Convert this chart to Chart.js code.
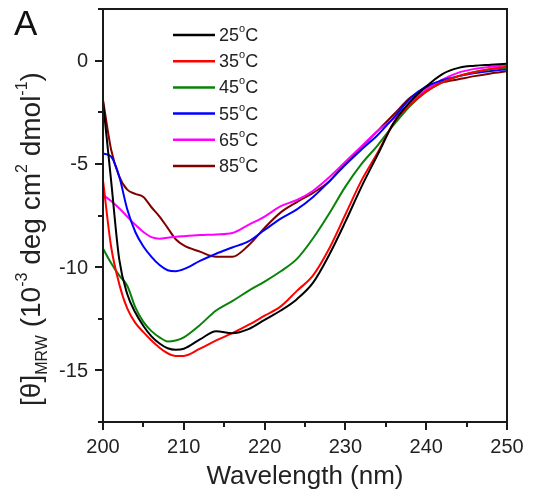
<!DOCTYPE html>
<html>
<head>
<meta charset="utf-8">
<script src="https://cdn.jsdelivr.net/npm/chart.js@4.4.0/dist/chart.umd.min.js"></script>
<style>
  html, body { margin: 0; padding: 0; background: #fff; }
  #cd { display: block; }
</style>
</head>
<body>
<canvas id="cd" width="543" height="497"></canvas>
<script>
// CD spectra, values (10^-3 deg cm2 dmol-1)
const wavelength = [200, 201, 202, 203, 204, 205, 206, 207, 208, 209, 210, 212, 214, 216, 218, 220,
  222, 224, 226, 228, 230, 232, 234, 236, 238, 240, 242, 244, 246, 248, 250];

const t25 = [-2.0, -5.8, -9.6, -11.3, -12.2, -12.85, -13.35, -13.7, -13.93, -14.0, -13.95, -13.5, -13.1, -13.2, -13.0, -12.55,
  -12.1, -11.55, -10.75, -9.4, -7.8, -6.1, -4.55, -3.0, -2.0, -1.25, -0.65, -0.35, -0.25, -0.2, -0.15];
const t35 = [-5.8, -9.0, -10.8, -12.0, -12.7, -13.15, -13.55, -13.9, -14.17, -14.3, -14.3, -13.95, -13.55, -13.2, -12.8, -12.35,
  -11.9, -11.15, -10.4, -9.1, -7.45, -5.8, -4.45, -3.0, -2.15, -1.5, -1.05, -0.75, -0.55, -0.4, -0.3];
const t45 = [-9.1, -9.8, -10.4, -10.9, -11.95, -12.65, -13.1, -13.4, -13.6, -13.55, -13.4, -12.8, -12.1, -11.65, -11.15, -10.7,
  -10.2, -9.6, -8.6, -7.4, -6.1, -5.0, -4.1, -3.1, -2.2, -1.5, -1.05, -0.75, -0.55, -0.42, -0.35];
const t55 = [-4.5, -4.65, -5.6, -7.2, -8.3, -9.0, -9.5, -9.9, -10.15, -10.2, -10.1, -9.7, -9.35, -9.05, -8.75, -8.2,
  -7.65, -7.2, -6.6, -5.85, -5.05, -4.3, -3.6, -2.75, -1.85, -1.25, -0.95, -0.75, -0.6, -0.5, -0.42];
const t65 = [-6.5, -6.8, -7.15, -7.55, -7.95, -8.3, -8.55, -8.62, -8.58, -8.53, -8.5, -8.45, -8.42, -8.35, -7.95, -7.55,
  -7.05, -6.75, -6.3, -5.65, -4.9, -4.15, -3.4, -2.8, -2.05, -1.4, -0.92, -0.58, -0.4, -0.3, -0.22];
const t85 = [-1.9, -4.3, -5.6, -6.25, -6.45, -6.6, -7.1, -7.55, -8.1, -8.65, -8.95, -9.25, -9.5, -9.5, -8.95, -8.1,
  -7.35, -6.85, -6.4, -5.85, -4.95, -4.2, -3.4, -2.6, -1.8, -1.3, -1.05, -0.9, -0.75, -0.62, -0.52];

const temps = ['25', '35', '45', '55', '65', '85'];
const series = [t25, t35, t45, t55, t65, t85];
const colors = ['#000000', '#ff0000', '#0a820a', '#0000ff', '#ff00ff', '#800000'];

const xTicks = [200, 210, 220, 230, 240, 250];
const yTicks = [-15, -10, -5, 0];

const FONT = '"Liberation Sans", Arial, sans-serif';

var datasets = series.map(function (vals, i) {
  return {
    label: temps[i] + '°C',
    data: wavelength.map(function (w, j) { return { x: w, y: vals[j] }; }),
    borderColor: colors[i],
    borderWidth: 2,
    pointRadius: 0,
    fill: false,
    cubicInterpolationMode: 'monotone'
  };
});

// frame, ticks, tick labels, legend and titles
var decor = {
  id: 'decor',
  afterDraw: function (chart) {
    var ctx = chart.ctx;
    var a = chart.chartArea;
    var sx = chart.scales.x, sy = chart.scales.y;
    ctx.save();
    ctx.strokeStyle = '#1a1a1a';
    ctx.lineWidth = 2;
    ctx.strokeRect(a.left, a.top, a.right - a.left, a.bottom - a.top);

    ctx.beginPath();
    for (var v = 200; v <= 250; v += 5) {
      var px = Math.round(sx.getPixelForValue(v));
      var len = (v % 10 === 0) ? 8 : 5;
      ctx.moveTo(px, a.bottom);
      ctx.lineTo(px, a.bottom + len);
    }
    for (var w = -17.5; w <= 2.5; w += 2.5) {
      var py = Math.round(sy.getPixelForValue(w));
      var l2 = (w % 5 === 0) ? 8 : 5;
      ctx.moveTo(a.left, py);
      ctx.lineTo(a.left - l2, py);
    }
    ctx.stroke();

    // tick labels
    ctx.fillStyle = '#222';
    ctx.font = '20px ' + FONT;
    ctx.textBaseline = 'middle';
    ctx.textAlign = 'center';
    xTicks.forEach(function (t) { ctx.fillText(String(t), sx.getPixelForValue(t), a.bottom + 25); });
    ctx.textAlign = 'right';
    yTicks.forEach(function (t) { ctx.fillText(String(t), a.left - 15, sy.getPixelForValue(t) + 1); });

    // legend
    ctx.textAlign = 'left';
    chart.data.datasets.forEach(function (ds, i) {
      var yy = 35 + i * 26.2;
      ctx.strokeStyle = ds.borderColor;
      ctx.lineWidth = 2.5;
      ctx.beginPath();
      ctx.moveTo(173, yy);
      ctx.lineTo(215, yy);
      ctx.stroke();
      ctx.fillStyle = '#222';
      ctx.font = '18px ' + FONT;
      ctx.fillText(temps[i], 219, yy + 1);
      var w1 = ctx.measureText(temps[i]).width;
      ctx.font = '11px ' + FONT;
      ctx.fillText('o', 219 + w1, yy - 6);
      var w2 = ctx.measureText('o').width;
      ctx.font = '18px ' + FONT;
      ctx.fillText('C', 219 + w1 + w2, yy + 1);
    });

    // panel letter
    ctx.fillStyle = '#111';
    ctx.font = '35px ' + FONT;
    ctx.textBaseline = 'alphabetic';
    ctx.fillText('A', 14, 35);

    // x title
    ctx.fillStyle = '#222';
    ctx.font = '26px ' + FONT;
    ctx.textAlign = 'center';
    ctx.fillText('Wavelength (nm)', (a.left + a.right) / 2, 484);

    // y title with sub/superscripts
    var parts = [['[θ]', 28, 0], ['MRW', 16, 7], [' (10', 28, 0], ['-3', 16, -13], [' deg cm', 28, 0],
      ['2', 16, -13], [' dmol', 28, 0], ['-1', 16, -13], [')', 28, 0]];
    var total = 0;
    parts.forEach(function (p) { ctx.font = p[1] + 'px ' + FONT; p.push(ctx.measureText(p[0]).width); total += p[3]; });
    ctx.translate(40, 239);
    ctx.rotate(-Math.PI / 2);
    ctx.textAlign = 'left';
    var cx = -total / 2;
    parts.forEach(function (p) {
      ctx.font = p[1] + 'px ' + FONT;
      ctx.fillText(p[0], cx, p[2]);
      cx += p[3];
    });
    ctx.restore();
  }
};

new Chart(document.getElementById('cd'), {
  type: 'line',
  data: { datasets: datasets },
  options: {
    responsive: false,
    animation: false,
    devicePixelRatio: 1,
    layout: { padding: { top: 9, right: 36, left: 0, bottom: 0 } },
    plugins: { legend: { display: false }, tooltip: { enabled: false } },
    scales: {
      x: {
        type: 'linear',
        min: 200,
        max: 250,
        grid: { display: false, drawTicks: false },
        border: { display: false },
        ticks: { display: false },
        afterFit: function (s) { s.height = 75; }
      },
      y: {
        type: 'linear',
        min: -17.5,
        max: 2.5,
        grid: { display: false, drawTicks: false },
        border: { display: false },
        ticks: { display: false },
        afterFit: function (s) { s.width = 103; }
      }
    }
  },
  plugins: [decor]
});
</script>
</body>
</html>
